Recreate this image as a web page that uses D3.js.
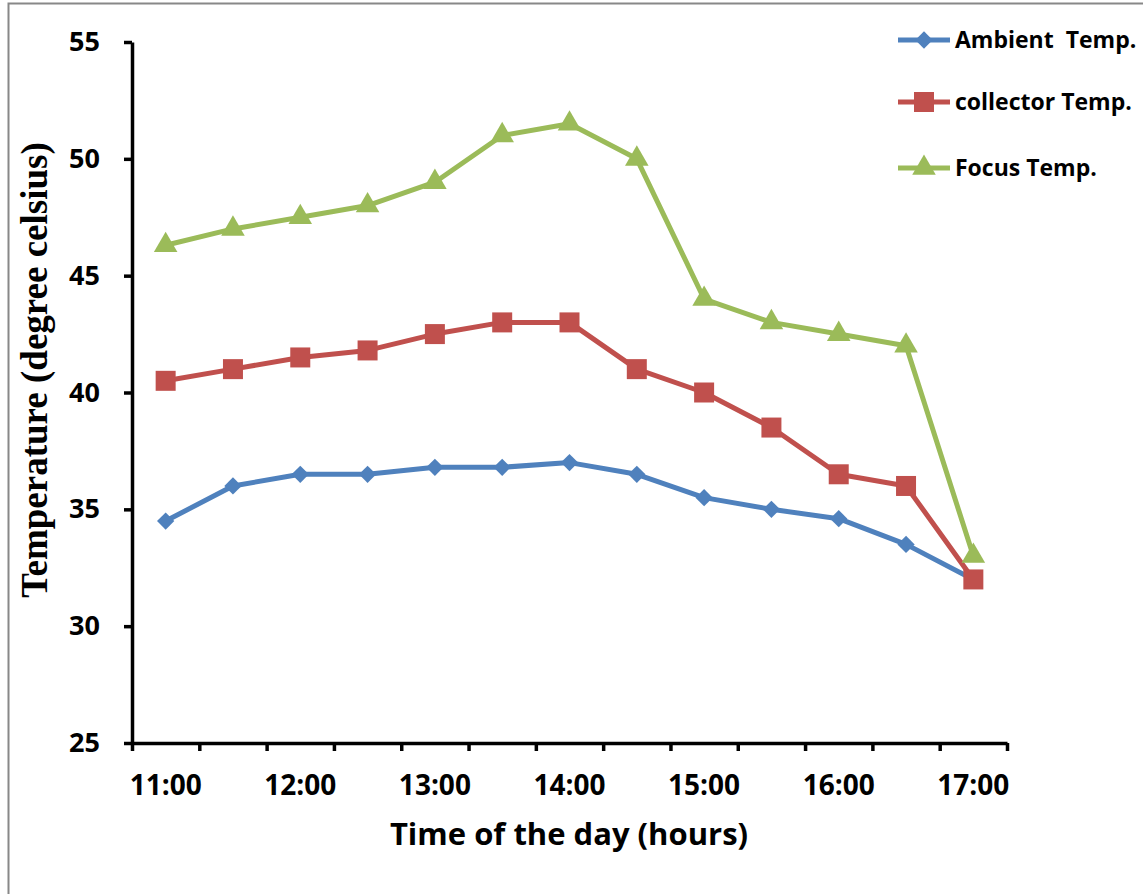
<!DOCTYPE html>
<html>
<head>
<meta charset="utf-8">
<script src="https://cdn.jsdelivr.net/npm/d3@7"></script>
<style>
  html, body { margin: 0; padding: 0; background: #fff; }
  svg text { font-family: "Open Sans", Lato, sans-serif; font-weight: bold; }
</style>
</head>
<body>
<svg id="chart" width="1143" height="894"></svg>
<script>
// Time of day (half-hour steps)
const times = ["11:00","11:30","12:00","12:30","13:00","13:30","14:00","14:30","15:00","15:30","16:00","16:30","17:00"];
// Temperatures in degree celsius
const ambient   = [34.5, 36, 36.5, 36.5, 36.8, 36.8, 37, 36.5, 35.5, 35, 34.6, 33.5, 32];
const collector = [40.5, 41, 41.5, 41.8, 42.5, 43, 43, 41, 40, 38.5, 36.5, 36, 32];
const focus     = [46.3, 47, 47.5, 48, 49, 51, 51.5, 50, 44, 43, 42.5, 42, 33];
const yTicks = [25, 30, 35, 40, 45, 50, 55];

const series = [
  { name: "Ambient  Temp.",  values: ambient,   color: "#4F81BD", symbol: "diamond" },
  { name: "collector Temp.", values: collector, color: "#C0504D", symbol: "square" },
  { name: "Focus Temp.",     values: focus,     color: "#9BBB59", symbol: "triangle" }
];

const svg = d3.select("#chart");
const plotLeft = 132, plotRight = 1007, plotTop = 42, plotBottom = 743;

// outer frame
svg.append("rect")
  .attr("x", 8.5).attr("y", 3.5).attr("width", 1200).attr("height", 1000)
  .attr("fill", "none").attr("stroke", "#888").attr("stroke-width", 2);

const x = d3.scaleBand().domain(times).range([plotLeft, plotRight]).padding(0);
const xEdge = d3.scaleLinear().domain([0, times.length]).range([plotLeft, plotRight]);
const y = d3.scaleLinear().domain([25, 55]).range([plotBottom, plotTop]);
const cx = t => x(t) + x.bandwidth() / 2;

// y axis
const gy = svg.append("g").attr("transform", `translate(${plotLeft},0)`)
  .call(d3.axisLeft(y).tickValues(yTicks).tickSize(8).tickSizeOuter(0).tickPadding(24));
gy.selectAll("text").style("font-size", "27px").attr("fill", "#000");

// x axis: edge ticks between categories
const gx = svg.append("g").attr("transform", `translate(0,${plotBottom})`)
  .call(d3.axisBottom(xEdge).tickValues(d3.range(times.length + 1)).tickFormat("").tickSize(8).tickSizeOuter(0));
// x axis labels at full hours
const gxl = svg.append("g").attr("transform", `translate(0,${plotBottom})`)
  .call(d3.axisBottom(x).tickSize(0).tickPadding(32).tickFormat(d => d.endsWith(":00") ? d : ""));
gxl.select(".domain").remove();
gxl.selectAll("text").style("font-size", "28px").attr("fill", "#000");

svg.selectAll(".domain").attr("stroke", "#000").attr("stroke-width", 3.5);
svg.selectAll(".tick line").attr("stroke", "#000").attr("stroke-width", 3.5);

// axis titles
svg.append("text")
  .attr("x", 569).attr("y", 845).attr("text-anchor", "middle")
  .style("font-size", "31px").text("Time of the day (hours)");
svg.append("text")
  .attr("transform", "translate(47,370) rotate(-90)").attr("text-anchor", "middle")
  .style("font-family", "'Liberation Serif', 'Times New Roman', serif")
  .style("font-size", "37px").text("Temperature (degree celsius)");

const symbolType = { diamond: d3.symbolDiamond2, square: d3.symbolSquare, triangle: d3.symbolTriangle };
const symbolSize = { diamond: 190, square: 400, triangle: 240 };

const line = d3.line().x((d, i) => cx(times[i])).y(d => y(d));

series.forEach(s => {
  svg.append("path").datum(s.values)
    .attr("d", line).attr("fill", "none")
    .attr("stroke", s.color).attr("stroke-width", 5).attr("stroke-linejoin", "round");
});
series.forEach(s => {
  svg.append("g").selectAll("path").data(s.values).join("path")
    .attr("transform", (d, i) => `translate(${cx(times[i])},${y(d)})`)
    .attr("d", d3.symbol(symbolType[s.symbol], symbolSize[s.symbol]))
    .attr("fill", s.color);
});

// legend
const legendY = [40, 102, 168];
series.forEach((s, i) => {
  const g = svg.append("g").attr("transform", `translate(898,${legendY[i]})`);
  g.append("line").attr("x1", 0).attr("x2", 52).attr("stroke", s.color).attr("stroke-width", 5);
  g.append("path").attr("transform", "translate(26,0)")
    .attr("d", d3.symbol(symbolType[s.symbol], symbolSize[s.symbol]))
    .attr("fill", s.color);
  g.append("text").attr("x", 57).attr("dy", "0.35em")
    .style("font-size", "23px").style("white-space", "pre").attr("fill", "#000").text(s.name);
});
</script>
</body>
</html>
